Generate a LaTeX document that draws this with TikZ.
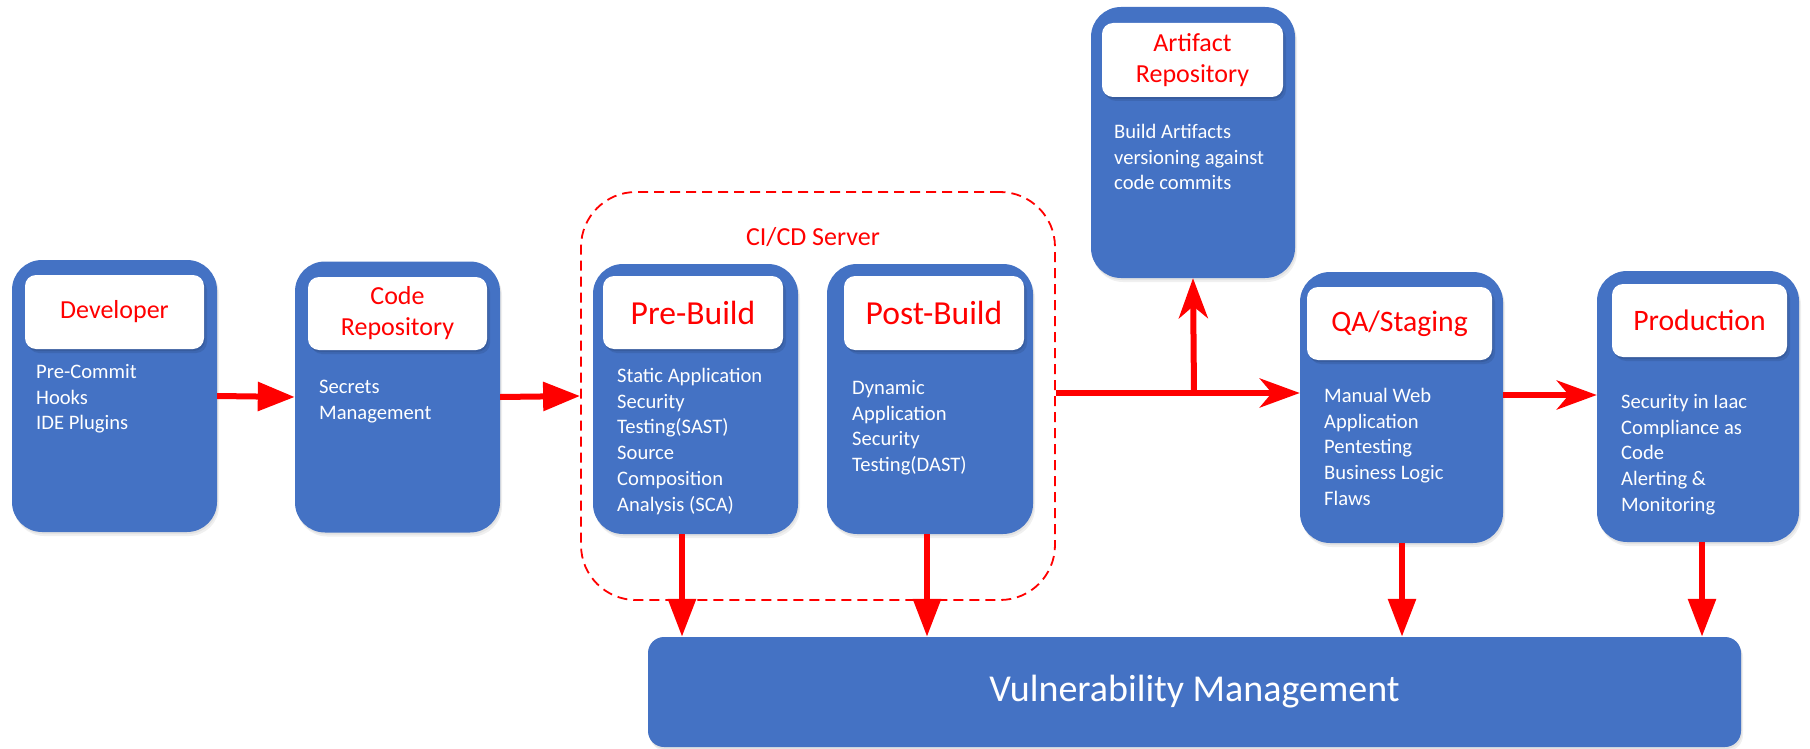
\documentclass[tikz,border=0pt]{standalone}
\usepackage{fontspec}
\setmainfont{Carlito}
\usetikzlibrary{arrows.meta,shadows,calc}
\definecolor{boxblue}{HTML}{4472C4}
\definecolor{arred}{HTML}{FF0000}
\begin{document}
\begin{tikzpicture}[x=1pt,y=-1pt,
  stage/.style={fill=boxblue, rounded corners=30pt, inner sep=0pt,
    drop shadow={opacity=0.12, shadow xshift=1pt, shadow yshift=-2pt},
    drop shadow={opacity=0.12, shadow xshift=2pt, shadow yshift=-4pt}},
  head/.style={fill=white, rounded corners=11pt, inner sep=0pt, text=arred, align=center,
    drop shadow={opacity=0.18, shadow xshift=1pt, shadow yshift=-2pt, fill=boxblue!40!black},
    drop shadow={opacity=0.15, shadow xshift=3pt, shadow yshift=-4pt, fill=boxblue!40!black}},
  hs/.style={font=\fontsize{26}{31}\selectfont},
  hm/.style={font=\fontsize{29.7}{35}\selectfont},
  hl/.style={font=\fontsize{33.6}{40}\selectfont},
  body/.style={anchor=north west, inner sep=0pt, text=white, align=left,
    font=\fontsize{20.6}{25.8}\selectfont},
  flow/.style={draw=arred, line width=6pt, -{Triangle[length=37pt,width=28pt]}},
  flows/.style={draw=arred, line width=6pt, -{Stealth[length=40pt,width=29pt,inset=12pt]}},
  down/.style={draw=arred, line width=6pt, -{Triangle[length=38pt,width=27pt]}},
]
\useasboundingbox (0,0) rectangle (1810,749);

% CI/CD dashed container
\node (cicd) [draw=arred, dash pattern=on 10pt off 6pt, line width=1.8pt, rounded corners=55pt,
  minimum width=474pt, minimum height=408pt, inner sep=0pt] at (818,396) {};
\node (cicdl) [text=arred, hs, inner sep=0pt] at (813,237) {CI/CD Server};

% Developer
\node (dev) [stage, minimum width=205pt, minimum height=272pt] at (114.5,396) {};
\node (devh) [head, hs, minimum width=179pt, minimum height=74pt] at (114.5,312) {Developer};
\node (devt) [body] at (36,360) {\strut Pre-Commit\\Hooks\\IDE Plugins};

% Code Repository
\node (code) [stage, minimum width=205pt, minimum height=271pt] at (397.5,397) {};
\node (codeh) [head, hs, minimum width=179pt, minimum height=73pt] at (397.5,313.5) {Code\\Repository};
\node (codet) [body] at (319,375) {\strut Secrets\\Management};

% Pre-Build
\node (pre) [stage, minimum width=205pt, minimum height=270pt] at (695.5,399) {};
\node (preh) [head, hl, minimum width=180pt, minimum height=73pt] at (693,312.5) {Pre-Build};
\node (pret) [body] at (617,364) {\strut Static Application\\Security\\Testing(SAST)\\Source\\Composition\\Analysis (SCA)};

% Post-Build
\node (post) [stage, minimum width=206pt, minimum height=270pt] at (930,399) {};
\node (posth) [head, hl, minimum width=180pt, minimum height=74pt] at (934,313) {Post-Build};
\node (postt) [body] at (852,376) {\strut Dynamic\\Application\\Security\\Testing(DAST)};

% Artifact Repository
\node (art) [stage, minimum width=204pt, minimum height=271pt] at (1193,142.5) {};
\node (arth) [head, hs, minimum width=181pt, minimum height=74pt] at (1192.5,60) {Artifact\\Repository};
\node (artt) [body] at (1114,120) {\strut Build Artifacts\\versioning against\\code commits};

% QA/Staging
\node (qa) [stage, minimum width=203pt, minimum height=271pt] at (1401.5,407.5) {};
\node (qah) [head, hm, minimum width=185pt, minimum height=73pt] at (1399.5,323.5) {QA/Staging};
\node (qat) [body] at (1324,384) {\strut Manual Web\\Application\\Pentesting\\Business Logic\\Flaws};

% Production
\node (prod) [stage, minimum width=202pt, minimum height=271pt] at (1698,406.5) {};
\node (prodh) [head, hm, minimum width=175pt, minimum height=73pt] at (1699.5,320.5) {Production};
\node (prodt) [body] at (1621,390) {\strut Security in Iaac\\Compliance as\\Code\\Alerting \&\\Monitoring};

% Vulnerability Management
\node (vuln) [fill=boxblue, rounded corners=16pt, inner sep=0pt, text=white,
  minimum width=1093pt, minimum height=110pt, font=\fontsize{38}{45}\selectfont,
  drop shadow={opacity=0.12, shadow xshift=1pt, shadow yshift=-2pt},
  drop shadow={opacity=0.12, shadow xshift=2pt, shadow yshift=-4pt}] at (1194.5,692) {Vulnerability Management};

% helper coordinates
\coordinate (j) at (1194,393);
\coordinate (d1) at (682,0);
\coordinate (d2) at (927,0);
\coordinate (d3) at (1402,0);
\coordinate (d4) at (1702,0);

% flow arrows
\draw[flow] (dev.east) -- (code.west);
\draw[flow] (code.east) -- (cicd.west);
\draw[draw=arred, line width=6pt] (cicd.east |- j) -- (j);
\draw[flows] (j) -- (qa.west |- j);
\draw[flows] (j) -- (art.south);
\draw[flows] (qa.east |- 0,395) -- (prod.west |- 0,395);

% down arrows
\draw[down] (d1 |- pre.south) -- (d1 |- vuln.north);
\draw[down] (d2 |- post.south) -- (d2 |- vuln.north);
\draw[down] (d3 |- qa.south) -- (d3 |- vuln.north);
\draw[down] (d4 |- prod.south) -- (d4 |- vuln.north);
\end{tikzpicture}
\end{document}
